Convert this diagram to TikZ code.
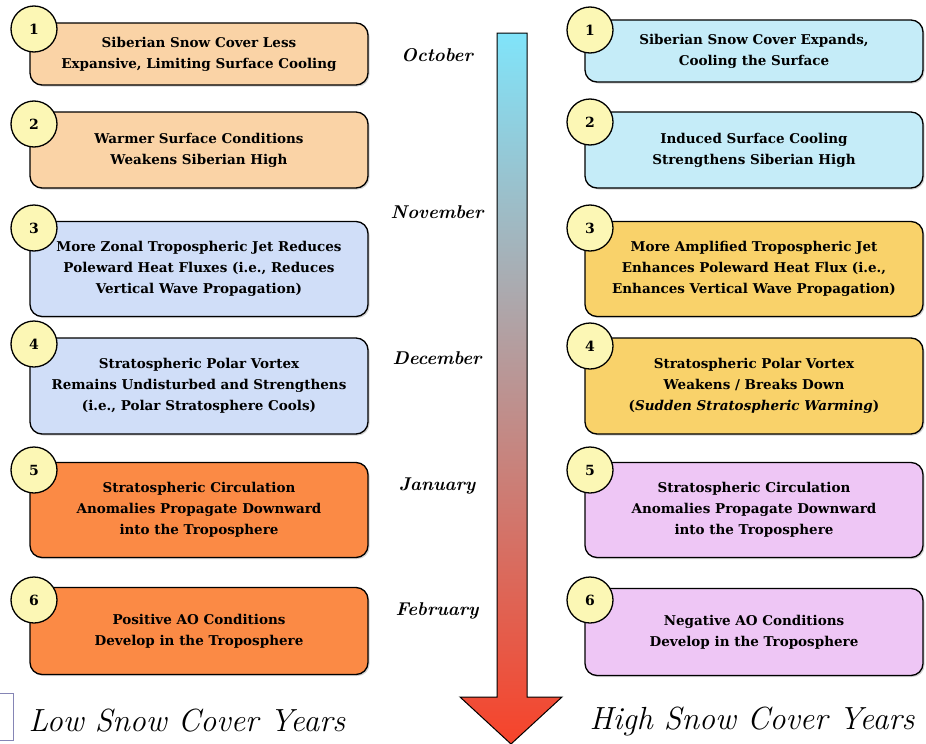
\documentclass[tikz,border=0pt]{standalone}
\usepackage{fontspec}
\newfontfamily\eventfont{DejaVu Serif}
\usetikzlibrary{shadows}
\definecolor{lowpeach}{HTML}{FAD3A6}
\definecolor{lowblue}{HTML}{D0DEF8}
\definecolor{loworange}{HTML}{FB8A45}
\definecolor{highcyan}{HTML}{C5ECF8}
\definecolor{highgold}{HTML}{F9D26A}
\definecolor{highlilac}{HTML}{EEC6F5}
\definecolor{badgeyellow}{HTML}{FCF7B5}
\definecolor{arrowcold}{HTML}{80E4FA}
\definecolor{arrowmid}{HTML}{B4A6B6}
\definecolor{arrowwarm}{HTML}{F7432A}
\definecolor{framegray}{HTML}{8585B5}

\begin{document}
\begin{tikzpicture}[x=1pt, y=-1pt,
    event/.style={draw=black, line width=1.3pt, rounded corners=12pt,
      minimum width=338pt, align=center, inner sep=0pt,
      font=\eventfont\fontsize{13.5}{21}\selectfont\bfseries,
      drop shadow={shadow xshift=1.5pt, shadow yshift=-1.5pt, opacity=0.35}},
    badge/.style={circle, draw=black, line width=1.3pt, fill=badgeyellow,
      minimum size=46pt, inner sep=0pt,
      font=\eventfont\fontsize{14}{14}\selectfont\bfseries},
    month/.style={font=\fontsize{18.5}{18.5}\selectfont\bfseries\itshape},
    season/.style={font=\fontsize{32}{32}\selectfont\itshape}
  ]
  \useasboundingbox (0,0) rectangle (926,744);

  % time arrow
  \path[draw=black, line width=1pt, top color=arrowcold, middle color=arrowmid,
    bottom color=arrowwarm]
    (497,33) -- (527,33) -- (527,697) -- (562,697) -- (511,744)
    -- (460,697) -- (497,697) -- cycle;
  \node[month] (oct) at (437,55) {October};
  \node[month] (nov) at (437,212) {November};
  \node[month] (dec) at (437,358) {December};
  \node[month] (jan) at (437,486) {January};
  \node[month] (feb) at (437,611) {February};

  % low snow cover years
  \node[event, fill=lowpeach, minimum height=62pt] (low1) at (199,54)
    {Siberian Snow Cover Less\\Expansive, Limiting Surface Cooling};
  \node[event, fill=lowpeach, minimum height=76pt] (low2) at (199,150)
    {Warmer Surface Conditions\\Weakens Siberian High};
  \node[event, fill=lowblue, minimum height=95pt] (low3) at (199,269)
    {More Zonal Tropospheric Jet Reduces\\Poleward Heat Fluxes (i.e., Reduces\\Vertical Wave Propagation)};
  \node[event, fill=lowblue, minimum height=96pt] (low4) at (199,386)
    {Stratospheric Polar Vortex\\Remains Undisturbed and Strengthens\\(i.e., Polar Stratosphere Cools)};
  \node[event, fill=loworange, minimum height=95pt] (low5) at (199,510)
    {Stratospheric Circulation\\Anomalies Propagate Downward\\into the Troposphere};
  \node[event, fill=loworange, minimum height=87pt] (low6) at (199,631)
    {Positive AO Conditions\\Develop in the Troposphere};
  \node[badge] (lowbadge1) at (34,29) {1};
  \node[badge] (lowbadge2) at (34,124) {2};
  \node[badge] (lowbadge3) at (34,228) {3};
  \node[badge] (lowbadge4) at (34,344) {4};
  \node[badge] (lowbadge5) at (34,470) {5};
  \node[badge] (lowbadge6) at (34,600) {6};

  % high snow cover years
  \node[event, fill=highcyan, minimum height=62pt] (high1) at (754,51)
    {Siberian Snow Cover Expands,\\Cooling the Surface};
  \node[event, fill=highcyan, minimum height=76pt] (high2) at (754,150)
    {Induced Surface Cooling\\Strengthens Siberian High};
  \node[event, fill=highgold, minimum height=95pt] (high3) at (754,269)
    {More Amplified Tropospheric Jet\\Enhances Poleward Heat Flux (i.e.,\\Enhances Vertical Wave Propagation)};
  \node[event, fill=highgold, minimum height=96pt] (high4) at (754,386)
    {Stratospheric Polar Vortex\\Weakens / Breaks Down\\(\textit{Sudden Stratospheric Warming})};
  \node[event, fill=highlilac, minimum height=95pt] (high5) at (754,510)
    {Stratospheric Circulation\\Anomalies Propagate Downward\\into the Troposphere};
  \node[event, fill=highlilac, minimum height=87pt] (high6) at (754,632)
    {Negative AO Conditions\\Develop in the Troposphere};
  \node[badge] (highbadge1) at (590,30) {1};
  \node[badge] (highbadge2) at (590,122) {2};
  \node[badge] (highbadge3) at (590,228) {3};
  \node[badge] (highbadge4) at (590,346) {4};
  \node[badge] (highbadge5) at (590,470) {5};
  \node[badge] (highbadge6) at (590,600) {6};

  % column titles
  \node[season] (lowtitle) at (187,721) {Low Snow Cover Years};
  \node[season] (hightitle) at (752,721) {High Snow Cover Years};
  \draw[framegray, line width=1pt] (-1,693) rectangle (13,740);
\end{tikzpicture}
\end{document}
